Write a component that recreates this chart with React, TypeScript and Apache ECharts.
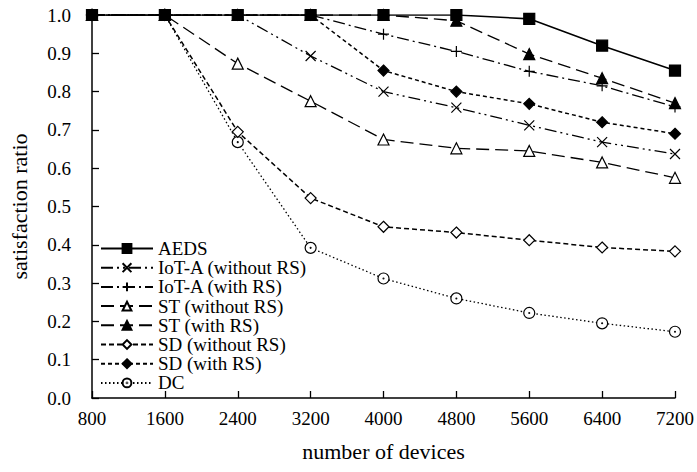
import React, { useEffect, useRef } from "react";
import * as echarts from "echarts";

const categories = ["800", "1600", "2400", "3200", "4000", "4800", "5600", "6400", "7200"];

const aeds = [1, 1, 1, 1, 1, 1, 0.99, 0.92, 0.855];
const iotaWithout = [1, 1, 1, 0.893, 0.8, 0.758, 0.712, 0.668, 0.637];
const iotaWith = [1, 1, 1, 1, 0.95, 0.905, 0.853, 0.815, 0.76];
const stWithout = [1, 1, 0.873, 0.775, 0.675, 0.652, 0.645, 0.615, 0.575];
const stWith = [1, 1, 1, 1, 1, 0.985, 0.898, 0.835, 0.77];
const sdWithout = [1, 1, 0.695, 0.522, 0.447, 0.432, 0.412, 0.393, 0.383];
const sdWith = [1, 1, 1, 1, 0.855, 0.8, 0.768, 0.72, 0.69];
const dc = [1, 1, 0.668, 0.392, 0.312, 0.26, 0.222, 0.195, 0.173];

const seriesNames = [
  "AEDS",
  "IoT-A (without RS)",
  "IoT-A (with RS)",
  "ST (without RS)",
  "ST (with RS)",
  "SD (without RS)",
  "SD (with RS)",
  "DC",
];

const FONT = "Liberation Serif";
const CROSS = "path://M0,0L10,10M10,0L0,10";
const PLUS = "path://M5,0L5,10M0,5L10,5";
const DOTCIRCLE =
  "path://M0,5a5,5 0 1,0 10,0a5,5 0 1,0 -10,0ZM4.6,5a0.4,0.4 0 1,0 0.8,0a0.4,0.4 0 1,0 -0.8,0Z";

export default function App() {
  const ref = useRef<HTMLDivElement>(null);
  useEffect(() => {
    if (!ref.current) return;
    const chart = echarts.init(ref.current, undefined, { renderer: "svg" });
    const mk = (
      name: string,
      data: number[],
      symbol: string,
      size: number,
      filled: boolean,
      dash: any,
      z: number,
      lw = 1.3
    ) => ({
      name,
      type: "line",
      data,
      symbol,
      symbolSize: size,
      showSymbol: true,
      z,
      lineStyle: { color: "#000", width: lw, type: dash },
      itemStyle: {
        color: filled ? "#000" : "#fff",
        borderColor: "#000",
        borderWidth: 1.2,
      },
      emphasis: { disabled: true },
    });
    chart.setOption({
      animation: false,
      textStyle: { fontFamily: FONT, color: "#000" },
      grid: { left: 92, right: 21, top: 15, bottom: 74, containLabel: false },
      legend: {
        orient: "vertical",
        left: 95,
        top: 234,
        itemWidth: 52,
        itemHeight: 11,
        itemGap: 0.2,
        data: seriesNames,
        textStyle: { fontFamily: FONT, fontSize: 19, color: "#000", lineHeight: 19 },
      },
      xAxis: {
        type: "category",
        data: categories,
        boundaryGap: false,
        name: "number of devices",
        nameLocation: "middle",
        nameGap: 42,
        nameTextStyle: { fontFamily: FONT, fontSize: 22, color: "#000" },
        axisLine: { lineStyle: { color: "#000", width: 1.5 } },
        axisTick: { inside: true, length: 7, lineStyle: { color: "#000", width: 1.3 } },
        axisLabel: { fontFamily: FONT, fontSize: 19, color: "#000", margin: 11 },
        splitLine: { show: false },
      },
      yAxis: {
        type: "value",
        min: 0,
        max: 1,
        interval: 0.1,
        name: "satisfaction ratio",
        nameLocation: "middle",
        nameGap: 62,
        nameTextStyle: { fontFamily: FONT, fontSize: 22, color: "#000" },
        axisLine: { show: true, lineStyle: { color: "#000", width: 1.5 } },
        axisTick: { show: true, inside: true, length: 7, lineStyle: { color: "#000", width: 1.3 } },
        axisLabel: {
          fontFamily: FONT,
          fontSize: 19,
          color: "#000",
          margin: 21,
          formatter: (v: number) => v.toFixed(1),
        },
        splitLine: { show: false },
      },
      series: [
        mk(seriesNames[0], aeds, "rect", 11, true, "solid", 10, 1.6),
        mk(seriesNames[1], iotaWithout, CROSS, 10, true, [12, 4, 2, 4, 2, 4], 5),
        mk(seriesNames[2], iotaWith, PLUS, 11, true, [12, 4, 2, 4], 6),
        mk(seriesNames[3], stWithout, "triangle", 11, false, [13, 6], 4),
        mk(seriesNames[4], stWith, "triangle", 11, true, [13, 6], 7),
        mk(seriesNames[5], sdWithout, "diamond", 11, false, [5, 3], 3, 1.5),
        mk(seriesNames[6], sdWith, "diamond", 11, true, [4, 3], 8, 1.5),
        mk(seriesNames[7], dc, DOTCIRCLE, 11, false, [1.5, 2.5], 2),
      ],
    });
    return () => chart.dispose();
  }, []);
  return (
    <div
      ref={ref}
      style={{ position: "fixed", left: 0, top: 0, width: 697, height: 472, background: "#fff" }}
    />
  );
}
